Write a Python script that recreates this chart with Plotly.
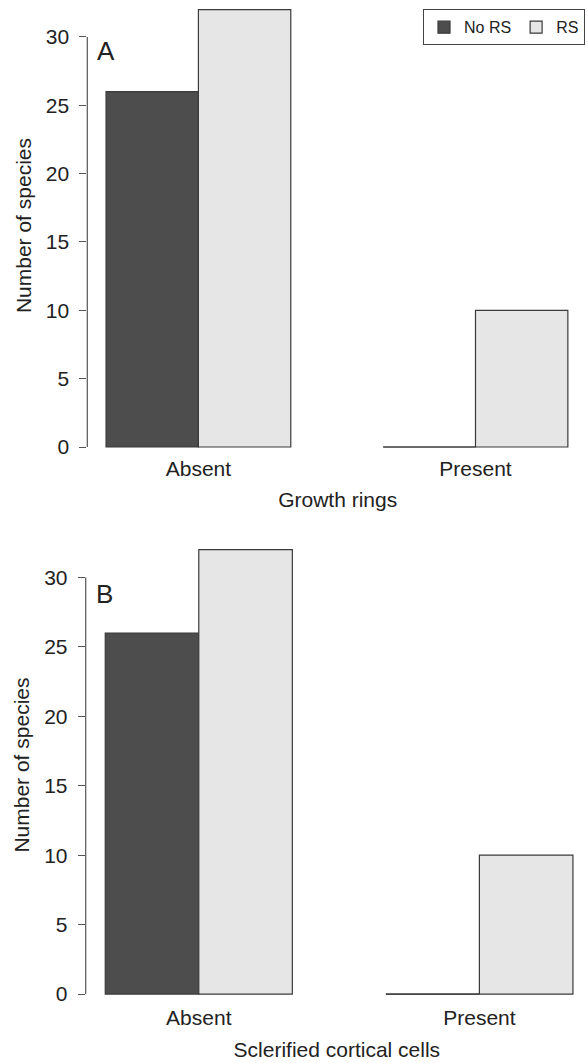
import plotly.graph_objects as go

# Data
categories = ["Absent", "Present"]
series_names = ["No RS", "RS"]
growth_rings_no_rs = [26, 0]
growth_rings_rs = [32, 10]
sclerified_no_rs = [26, 0]
sclerified_rs = [32, 10]
y_ticks = [0, 5, 10, 15, 20, 25, 30]
panel_labels = ["A", "B"]
x_titles = ["Growth rings", "Sclerified cortical cells"]

W, H = 588, 1063
FONT = "Liberation Sans, Arial, Helvetica, sans-serif"
TXT = "#222222"
DARK = "#4d4d4d"
LIGHT = "#e6e6e6"
EDGE = "#3a3a3a"
AXIS = "#555555"
BARGAP = 1 / 3

fig = go.Figure()

panels = [
    (growth_rings_no_rs, growth_rings_rs, "x", "y", True),
    (sclerified_no_rs, sclerified_rs, "x2", "y2", False),
]
n_series = 2
bar_w = (1 - BARGAP) / n_series

for no_rs, rs, xa, ya, show_leg in panels:
    for k, (name, vals, col) in enumerate(
        [(series_names[0], no_rs, DARK), (series_names[1], rs, LIGHT)]
    ):
        fig.add_trace(go.Bar(
            x=categories, y=vals, name=name, xaxis=xa, yaxis=ya,
            marker=dict(color=col, line=dict(color=EDGE, width=1.2)),
            showlegend=show_leg, legendgroup=name,
        ))
        # zero-height bars still show their outline as a baseline segment
        for i, v in enumerate(vals):
            if v == 0:
                x0 = i - (1 - BARGAP) / 2 + k * bar_w
                fig.add_shape(type="line", xref=xa, yref=ya,
                              x0=x0, x1=x0 + bar_w, y0=v, y1=v,
                              line=dict(color=EDGE, width=1.2))

# y axis line spanning the tick range only
for xa, ya in [("x", "y"), ("x2", "y2")]:
    fig.add_shape(type="line", xref=f"{xa} domain", yref=ya,
                  x0=0, x1=0, y0=y_ticks[0], y1=y_ticks[-1],
                  line=dict(color=AXIS, width=1.2))

xaxis_common = dict(
    type="category", showgrid=False, zeroline=False, showline=False,
    ticks="", tickfont=dict(size=21, color=TXT, family=FONT),
)
yaxis_common = dict(
    showgrid=False, zeroline=False, showline=False,
    ticks="outside", ticklen=7, tickwidth=1.2, tickcolor=AXIS,
    tickvals=y_ticks, ticklabelstandoff=6,
    tickfont=dict(size=21, color=TXT, family=FONT),
)

fig.update_layout(
    width=W, height=H,
    margin=dict(l=0, r=0, t=0, b=0),
    paper_bgcolor="white", plot_bgcolor="white",
    barmode="group", bargap=BARGAP, bargroupgap=0,
    font=dict(family=FONT, color=TXT, size=21),
    xaxis=dict(**xaxis_common, domain=[87.3 / W, 1], range=[-0.401, 1.406],
               anchor="y", ticklabelstandoff=3,
               title=dict(text=x_titles[0], standoff=13,
                          font=dict(size=21, color=TXT, family=FONT))),
    yaxis=dict(**yaxis_common, domain=[1 - 454.1 / H, 1], range=[-0.3, 32.7],
               anchor="x",
               title=dict(text="Number of species", standoff=8,
                          font=dict(size=21, color=TXT, family=FONT))),
    xaxis2=dict(**xaxis_common, domain=[85.7 / W, 1], range=[-0.403, 1.387],
                anchor="y2", ticklabelstandoff=5,
                title=dict(text=x_titles[1], standoff=14,
                           font=dict(size=21, color=TXT, family=FONT))),
    yaxis2=dict(**yaxis_common, domain=[1 - 1004.9 / H, 1 - 535.4 / H],
                range=[-0.3, 33.28], anchor="x2",
                title=dict(text="Number of species", standoff=8,
                           font=dict(size=21, color=TXT, family=FONT))),
    legend=dict(
        orientation="h", x=585 / W, xanchor="right", y=1 - 9.3 / H,
        yanchor="top", bgcolor="white", bordercolor="#444444", borderwidth=1,
        font=dict(size=16, color=TXT, family=FONT), traceorder="normal",
    ),
    showlegend=True,
)

# panel letters
for lab, xa, ya, yv in [(panel_labels[0], "x", "y", 29.0),
                        (panel_labels[1], "x2", "y2", 28.8)]:
    fig.add_annotation(text=lab, xref=f"{xa} domain", yref=ya, x=0, y=yv,
                       xshift=8, xanchor="left", yanchor="middle",
                       showarrow=False,
                       font=dict(size=26, color=TXT, family=FONT))

fig.write_html("out.html")
